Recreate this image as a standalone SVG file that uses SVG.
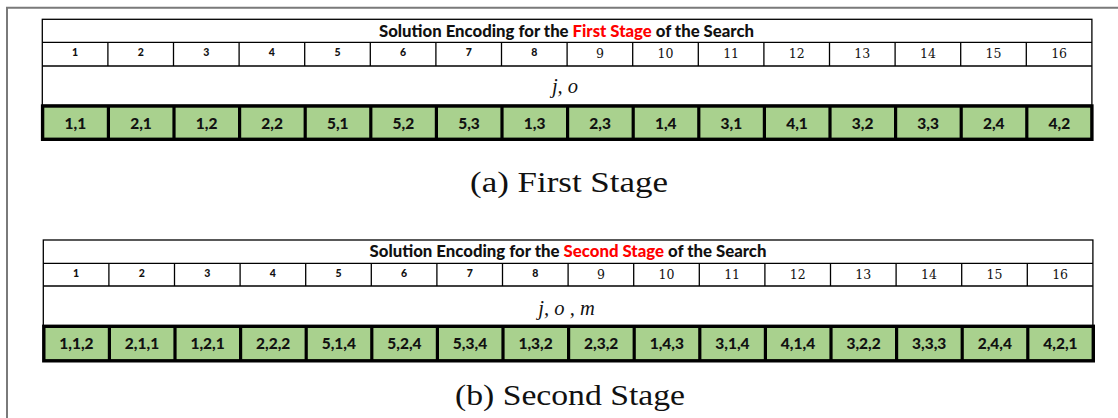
<svg xmlns="http://www.w3.org/2000/svg" width="1118" height="418" viewBox="0 0 1118 418">
  <style>
    .frame { stroke: #7a7a7a; stroke-width: 2; fill: none; }
    .box { fill: #ffffff; stroke: #000000; stroke-width: 1.3; }
    .thin { stroke: #000000; stroke-width: 1.3; }
    .gene { fill: #a9d18e; stroke: #000000; stroke-width: 3.4; }
    .thick { stroke: #000000; stroke-width: 3.2; }
    .title { font-family: Lato, "Liberation Sans", sans-serif; font-weight: 900; font-size: 16px; fill: #111111; text-anchor: middle; }
    .red { fill: #ff0000; }
    .idxA { font-family: Lato, "Liberation Sans", sans-serif; font-weight: 900; font-size: 10.5px; fill: #111111; text-anchor: middle; }
    .idxB { font-family: "DejaVu Serif", serif; font-size: 12.5px; fill: #111111; text-anchor: middle; }
    .math { font-family: "Liberation Serif", serif; font-style: italic; font-size: 20.5px; fill: #111111; text-anchor: middle; }
    .val { font-family: Lato, "Liberation Sans", sans-serif; font-weight: 900; font-size: 15.5px; fill: #111111; text-anchor: middle; }
    .cap { font-family: "Liberation Serif", serif; font-size: 30px; fill: #111111; text-anchor: middle; }
  </style>

  <!-- page frame -->
  <path class="frame" d="M7,418 V7.8 H1118"/>

  <!-- ===== First stage table ===== -->
  <g id="table-first">
    <rect class="box" x="42.3" y="19.3" width="1049.6" height="86"/>
    <line class="thin" x1="42.3" y1="42.3" x2="1091.9" y2="42.3"/>
    <line class="thin" x1="42.3" y1="66" x2="1091.9" y2="66"/>
    <g class="thin">
      <line x1="107.9" y1="42.3" x2="107.9" y2="66"/>
      <line x1="173.5" y1="42.3" x2="173.5" y2="66"/>
      <line x1="239.1" y1="42.3" x2="239.1" y2="66"/>
      <line x1="304.7" y1="42.3" x2="304.7" y2="66"/>
      <line x1="370.3" y1="42.3" x2="370.3" y2="66"/>
      <line x1="435.9" y1="42.3" x2="435.9" y2="66"/>
      <line x1="501.5" y1="42.3" x2="501.5" y2="66"/>
      <line x1="567.1" y1="42.3" x2="567.1" y2="66"/>
      <line x1="632.7" y1="42.3" x2="632.7" y2="66"/>
      <line x1="698.3" y1="42.3" x2="698.3" y2="66"/>
      <line x1="763.9" y1="42.3" x2="763.9" y2="66"/>
      <line x1="829.5" y1="42.3" x2="829.5" y2="66"/>
      <line x1="895.1" y1="42.3" x2="895.1" y2="66"/>
      <line x1="960.7" y1="42.3" x2="960.7" y2="66"/>
      <line x1="1026.3" y1="42.3" x2="1026.3" y2="66"/>
    </g>
    <text class="title" x="566.5" y="36.5" textLength="375" lengthAdjust="spacingAndGlyphs">Solution Encoding for the <tspan class="red">First Stage</tspan> of the Search</text>
    <g id="first-index">
      <text class="idxA" x="75.1" y="55.7">1</text>
      <text class="idxA" x="140.7" y="55.7">2</text>
      <text class="idxA" x="206.3" y="55.7">3</text>
      <text class="idxA" x="271.9" y="55.7">4</text>
      <text class="idxA" x="337.5" y="55.7">5</text>
      <text class="idxA" x="403.1" y="55.7">6</text>
      <text class="idxA" x="468.7" y="55.7">7</text>
      <text class="idxA" x="534.3" y="55.7">8</text>
      <text class="idxB" x="599.9" y="57.7">9</text>
      <text class="idxB" x="665.5" y="57.7">10</text>
      <text class="idxB" x="731.1" y="57.7">11</text>
      <text class="idxB" x="796.7" y="57.7">12</text>
      <text class="idxB" x="862.3" y="57.7">13</text>
      <text class="idxB" x="927.9" y="57.7">14</text>
      <text class="idxB" x="993.5" y="57.7">15</text>
      <text class="idxB" x="1059.1" y="57.7">16</text>
    </g>
    <text class="math" x="565" y="93">j, o</text>
    <g id="first-genes">
      <rect class="gene" x="42.6" y="106" width="1049.3" height="33.3"/>
      <g class="thick">
        <line x1="108.4" y1="106" x2="108.4" y2="139.3"/>
        <line x1="174" y1="106" x2="174" y2="139.3"/>
        <line x1="239.6" y1="106" x2="239.6" y2="139.3"/>
        <line x1="305.2" y1="106" x2="305.2" y2="139.3"/>
        <line x1="370.8" y1="106" x2="370.8" y2="139.3"/>
        <line x1="436.4" y1="106" x2="436.4" y2="139.3"/>
        <line x1="502" y1="106" x2="502" y2="139.3"/>
        <line x1="567.6" y1="106" x2="567.6" y2="139.3"/>
        <line x1="633.2" y1="106" x2="633.2" y2="139.3"/>
        <line x1="698.8" y1="106" x2="698.8" y2="139.3"/>
        <line x1="764.4" y1="106" x2="764.4" y2="139.3"/>
        <line x1="830" y1="106" x2="830" y2="139.3"/>
        <line x1="895.6" y1="106" x2="895.6" y2="139.3"/>
        <line x1="961.2" y1="106" x2="961.2" y2="139.3"/>
        <line x1="1026.8" y1="106" x2="1026.8" y2="139.3"/>
      </g>
      <text class="val" x="75.4" y="129.3">1,1</text>
      <text class="val" x="141" y="129.3">2,1</text>
      <text class="val" x="206.6" y="129.3">1,2</text>
      <text class="val" x="272.2" y="129.3">2,2</text>
      <text class="val" x="337.8" y="129.3">5,1</text>
      <text class="val" x="403.4" y="129.3">5,2</text>
      <text class="val" x="469" y="129.3">5,3</text>
      <text class="val" x="534.6" y="129.3">1,3</text>
      <text class="val" x="600.2" y="129.3">2,3</text>
      <text class="val" x="665.8" y="129.3">1,4</text>
      <text class="val" x="731.4" y="129.3">3,1</text>
      <text class="val" x="797" y="129.3">4,1</text>
      <text class="val" x="862.6" y="129.3">3,2</text>
      <text class="val" x="928.2" y="129.3">3,3</text>
      <text class="val" x="993.8" y="129.3">2,4</text>
      <text class="val" x="1059.4" y="129.3">4,2</text>
    </g>
  </g>
  <text id="caption-a" class="cap" x="569" y="192" textLength="198" lengthAdjust="spacingAndGlyphs">(a) First Stage</text>

  <!-- ===== Second stage table ===== -->
  <g id="table-second">
    <rect class="box" x="43.3" y="240" width="1049.6" height="86"/>
    <line class="thin" x1="43.3" y1="263.3" x2="1092.9" y2="263.3"/>
    <line class="thin" x1="43.3" y1="286" x2="1092.9" y2="286"/>
    <g class="thin">
      <line x1="108.9" y1="263.3" x2="108.9" y2="286"/>
      <line x1="174.5" y1="263.3" x2="174.5" y2="286"/>
      <line x1="240.1" y1="263.3" x2="240.1" y2="286"/>
      <line x1="305.7" y1="263.3" x2="305.7" y2="286"/>
      <line x1="371.3" y1="263.3" x2="371.3" y2="286"/>
      <line x1="436.9" y1="263.3" x2="436.9" y2="286"/>
      <line x1="502.5" y1="263.3" x2="502.5" y2="286"/>
      <line x1="568.1" y1="263.3" x2="568.1" y2="286"/>
      <line x1="633.7" y1="263.3" x2="633.7" y2="286"/>
      <line x1="699.3" y1="263.3" x2="699.3" y2="286"/>
      <line x1="764.9" y1="263.3" x2="764.9" y2="286"/>
      <line x1="830.5" y1="263.3" x2="830.5" y2="286"/>
      <line x1="896.1" y1="263.3" x2="896.1" y2="286"/>
      <line x1="961.7" y1="263.3" x2="961.7" y2="286"/>
      <line x1="1027.3" y1="263.3" x2="1027.3" y2="286"/>
    </g>
    <text class="title" x="568" y="257.3" textLength="397" lengthAdjust="spacingAndGlyphs">Solution Encoding for the <tspan class="red">Second Stage</tspan> of the Search</text>
    <g id="second-index">
      <text class="idxA" x="76.1" y="276.7">1</text>
      <text class="idxA" x="141.7" y="276.7">2</text>
      <text class="idxA" x="207.3" y="276.7">3</text>
      <text class="idxA" x="272.9" y="276.7">4</text>
      <text class="idxA" x="338.5" y="276.7">5</text>
      <text class="idxA" x="404.1" y="276.7">6</text>
      <text class="idxA" x="469.7" y="276.7">7</text>
      <text class="idxA" x="535.3" y="276.7">8</text>
      <text class="idxB" x="600.9" y="278.5">9</text>
      <text class="idxB" x="666.5" y="278.5">10</text>
      <text class="idxB" x="732.1" y="278.5">11</text>
      <text class="idxB" x="797.7" y="278.5">12</text>
      <text class="idxB" x="863.3" y="278.5">13</text>
      <text class="idxB" x="928.9" y="278.5">14</text>
      <text class="idxB" x="994.5" y="278.5">15</text>
      <text class="idxB" x="1060.1" y="278.5">16</text>
    </g>
    <text class="math" x="566.5" y="315">j, o , m</text>
    <g id="second-genes">
      <rect class="gene" x="43.8" y="326.3" width="1049.5" height="34.5"/>
      <g class="thick">
        <line x1="109.4" y1="326.3" x2="109.4" y2="360.8"/>
        <line x1="175" y1="326.3" x2="175" y2="360.8"/>
        <line x1="240.6" y1="326.3" x2="240.6" y2="360.8"/>
        <line x1="306.2" y1="326.3" x2="306.2" y2="360.8"/>
        <line x1="371.8" y1="326.3" x2="371.8" y2="360.8"/>
        <line x1="437.4" y1="326.3" x2="437.4" y2="360.8"/>
        <line x1="503" y1="326.3" x2="503" y2="360.8"/>
        <line x1="568.6" y1="326.3" x2="568.6" y2="360.8"/>
        <line x1="634.2" y1="326.3" x2="634.2" y2="360.8"/>
        <line x1="699.8" y1="326.3" x2="699.8" y2="360.8"/>
        <line x1="765.4" y1="326.3" x2="765.4" y2="360.8"/>
        <line x1="831" y1="326.3" x2="831" y2="360.8"/>
        <line x1="896.6" y1="326.3" x2="896.6" y2="360.8"/>
        <line x1="962.2" y1="326.3" x2="962.2" y2="360.8"/>
        <line x1="1027.8" y1="326.3" x2="1027.8" y2="360.8"/>
      </g>
      <text class="val" x="76.4" y="349.3">1,1,2</text>
      <text class="val" x="142" y="349.3">2,1,1</text>
      <text class="val" x="207.6" y="349.3">1,2,1</text>
      <text class="val" x="273.2" y="349.3">2,2,2</text>
      <text class="val" x="338.8" y="349.3">5,1,4</text>
      <text class="val" x="404.4" y="349.3">5,2,4</text>
      <text class="val" x="470" y="349.3">5,3,4</text>
      <text class="val" x="535.6" y="349.3">1,3,2</text>
      <text class="val" x="601.2" y="349.3">2,3,2</text>
      <text class="val" x="666.8" y="349.3">1,4,3</text>
      <text class="val" x="732.4" y="349.3">3,1,4</text>
      <text class="val" x="798" y="349.3">4,1,4</text>
      <text class="val" x="863.6" y="349.3">3,2,2</text>
      <text class="val" x="929.2" y="349.3">3,3,3</text>
      <text class="val" x="994.8" y="349.3">2,4,4</text>
      <text class="val" x="1060.4" y="349.3">4,2,1</text>
    </g>
  </g>
  <text id="caption-b" class="cap" x="570" y="405" textLength="230" lengthAdjust="spacingAndGlyphs">(b) Second Stage</text>
</svg>
